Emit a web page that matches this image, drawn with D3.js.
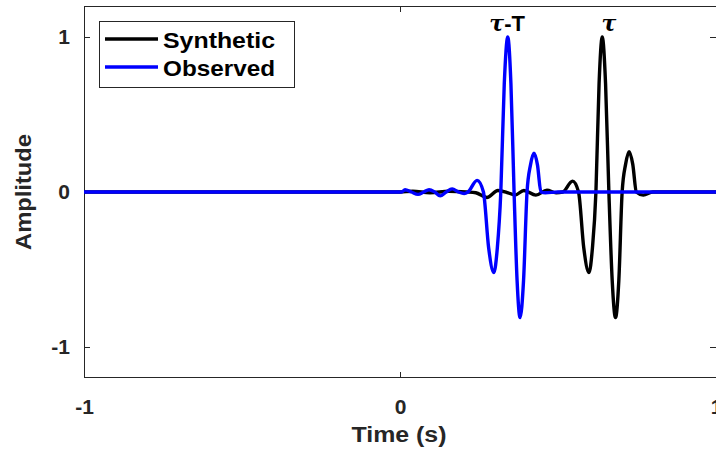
<!DOCTYPE html>
<html>
<head>
<meta charset="utf-8">
<script src="https://cdn.jsdelivr.net/npm/d3@7"></script>
<style>
  body { margin: 0; background: #fff; }
  svg { display: block; }
  text { font-family: "Liberation Sans", Arial, Helvetica, sans-serif; font-weight: bold; }
</style>
</head>
<body>
<svg id="chart" width="716" height="452"></svg>
<script>
// observed trace (blue)
var obsTime = [-1, 0, 0.005, 0.016, 0.036, 0.057, 0.075, 0.092, 0.110, 0.127, 0.146, 0.165, 0.185, 0.203, 0.215,
               0.244, 0.264, 0.2805, 0.297, 0.308, 0.319, 0.330, 0.341, 0.351, 0.361, 0.3705, 0.380, 0.391,
               0.402, 0.413, 0.424, 0.435, 0.446, 0.460, 0.50, 1];
var obsAmp  = [0, 0, 0, 0.015, 0, -0.015, 0, 0.015, 0, -0.025, 0, 0.02, 0, -0.01, 0,
               0.075, 0, -0.36, -0.52, -0.36, 0, 0.70, 1.0, 0.70, 0, -0.57, -0.81, -0.57,
               0, 0.175, 0.25, 0.175, 0, -0.005, 0, 0];

// synthetic trace (black)
var synTime = [-1, 0, 0.04, 0.095, 0.155, 0.21, 0.24, 0.275, 0.31, 0.342, 0.364, 0.392, 0.43, 0.465, 0.494,
               0.515, 0.546, 0.565, 0.5815, 0.598, 0.609, 0.620, 0.630, 0.640, 0.6505, 0.661, 0.6715, 0.682, 0.6925,
               0.703, 0.714, 0.725, 0.7365, 0.748, 0.77, 0.80, 1];
var synAmp  = [0, 0, 0.005, -0.005, 0.005, 0, -0.005, -0.035, 0.01, -0.005, -0.02, 0.01, -0.02, 0.012, -0.005,
               0, 0.07, 0, -0.36, -0.52, -0.36, 0, 0.70, 1.0, 0.70, 0, -0.57, -0.81, -0.57,
               0, 0.18, 0.26, 0.18, 0, -0.02, 0, 0];

var xTicks = [-1, 0, 1];
var yTicks = [-1, 0, 1];
var seriesNames = ["Synthetic", "Observed"];
var seriesColors = ["#000000", "#0000ff"];

// peak annotations
var markTime = [0.339, 0.661];
var markAmp = [1.04, 1.04];
var markText = [["τ", "-T"], ["τ", ""]];

const padLeft = 84, padRight = 716, padTop = 6, padBottom = 378;
const axisColor = "#262626";

var svg = d3.select("#chart");

var x = d3.scaleLinear().domain([-1, 1]).range([padLeft, padRight]);
var y = d3.scaleLinear().domain([-1.2, 1.2]).range([padBottom, padTop]);
var plainNum = function(d) { return String(d); };

// axes (MATLAB style box with inward ticks)
svg.append("g")
    .attr("transform", "translate(0," + padBottom + ")")
    .call(d3.axisBottom(x).tickValues(xTicks).tickSizeInner(-6).tickSizeOuter(0).tickPadding(21).tickFormat(plainNum))
    .call(g => g.select(".domain").remove());
svg.append("g")
    .attr("transform", "translate(0," + padTop + ")")
    .call(d3.axisTop(x).tickValues(xTicks).tickSizeInner(-6).tickSizeOuter(0).tickFormat(""))
    .call(g => g.select(".domain").remove());
svg.append("g")
    .attr("transform", "translate(" + padLeft + ",0)")
    .call(d3.axisLeft(y).tickValues(yTicks).tickSizeInner(-6).tickSizeOuter(0).tickPadding(14).tickFormat(plainNum))
    .call(g => g.select(".domain").remove());
svg.append("g")
    .attr("transform", "translate(" + padRight + ",0)")
    .call(d3.axisRight(y).tickValues(yTicks).tickSizeInner(-6).tickSizeOuter(0).tickFormat(""))
    .call(g => g.select(".domain").remove());

svg.selectAll(".tick line").attr("stroke", axisColor);
svg.selectAll(".tick text")
    .attr("fill", axisColor)
    .style("font-size", "21px")
    .style("font-family", "\"Liberation Sans\", Arial, sans-serif")
    .style("font-weight", "bold");

svg.append("rect")
    .attr("x", padLeft + 0.5).attr("y", padTop + 0.5)
    .attr("width", padRight - padLeft).attr("height", padBottom - padTop - 1)
    .attr("fill", "none").attr("stroke", axisColor).attr("stroke-width", 1);

// traces
var line = d3.line()
    .x(function(d) { return x(d[0]); })
    .y(function(d) { return y(d[1]); })
    .curve(d3.curveMonotoneX);

var traces = [d3.zip(synTime, synAmp), d3.zip(obsTime, obsAmp)];
svg.selectAll(".trace").data(traces).enter().append("path")
    .attr("class", "trace")
    .attr("d", line)
    .attr("fill", "none")
    .attr("stroke", function(d, i) { return seriesColors[i]; })
    .attr("stroke-width", 3.4)
    .attr("stroke-linejoin", "round");

// annotations
var marks = svg.selectAll(".mark").data(markText).enter().append("text")
    .attr("class", "mark")
    .attr("x", function(d, i) { return x(markTime[i]); })
    .attr("y", function(d, i) { return y(markAmp[i]); })
    .attr("text-anchor", "middle")
    .style("font-size", "22px");
marks.append("tspan")
    .style("font-family", "\"DejaVu Serif\", \"Liberation Serif\", serif")
    .style("font-style", "italic")
    .text(function(d) { return d[0]; });
marks.append("tspan").text(function(d) { return d[1]; });

// axis labels
svg.append("text")
    .attr("x", (padLeft + padRight) / 2 - 1).attr("y", 442)
    .attr("text-anchor", "middle")
    .attr("fill", axisColor)
    .attr("textLength", 95).attr("lengthAdjust", "spacingAndGlyphs")
    .style("font-size", "22px")
    .text("Time (s)");
svg.append("text")
    .attr("transform", "translate(31," + y(0) + ") rotate(-90)")
    .attr("text-anchor", "middle")
    .attr("fill", axisColor)
    .attr("textLength", 116).attr("lengthAdjust", "spacingAndGlyphs")
    .style("font-size", "22px")
    .text("Amplitude");

// legend
var legend = svg.append("g");
legend.append("rect")
    .attr("x", 99.5).attr("y", 21.5).attr("width", 195).attr("height", 66)
    .attr("fill", "#fff").attr("stroke", axisColor).attr("stroke-width", 1);
var items = legend.selectAll(".item").data(seriesNames).enter().append("g")
    .attr("class", "item")
    .attr("transform", function(d, i) { return "translate(0," + (39 + i * 28) + ")"; });
items.append("line")
    .attr("x1", 105).attr("x2", 158)
    .attr("stroke", function(d, i) { return seriesColors[i]; })
    .attr("stroke-width", 3.4);
items.append("text")
    .attr("x", 163).attr("y", 9)
    .attr("textLength", 112).attr("lengthAdjust", "spacingAndGlyphs")
    .style("font-size", "22px")
    .text(function(d) { return d; });
</script>
</body>
</html>
